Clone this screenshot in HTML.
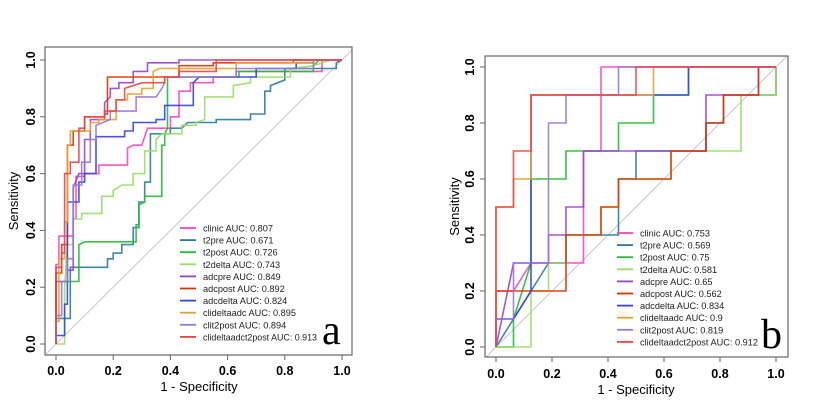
<!DOCTYPE html>
<html><head><meta charset="utf-8">
<style>
html,body{margin:0;padding:0;background:#fff;}
svg{display:block;font-family:"Liberation Sans",Arial,sans-serif;}
.tick{font-size:12.5px;font-weight:bold;fill:#000;}
.axt{font-size:13px;fill:#000;}
.leg{font-size:9.2px;fill:#222;}
</style></head>
<body>
<svg id="chart" width="822" height="404" viewBox="0 0 822 404"></svg>
<script>
// ---------- data ----------
const seriesNames = ["clinic","t2pre","t2post","t2delta","adcpre","adcpost","adcdelta","clideltaadc","clit2post","clideltaadct2post"];
const seriesColors = ["#FF44BB","#2A7AA0","#22BB33","#99DD66","#9944CC","#DD3300","#3344DD","#E8A030","#9977DD","#EE4444"];
const aucA = ["0.807","0.671","0.726","0.743","0.849","0.892","0.824","0.895","0.894","0.913"];
const aucB = ["0.753","0.569","0.75","0.581","0.65","0.562","0.834","0.9","0.819","0.912"];
const ticks = [0,0.2,0.4,0.6,0.8,1.0];
const tickLabels = ["0.0","0.2","0.4","0.6","0.8","1.0"];

const curvesA = [
 [[0,0],[0,0.28],[0.01,0.28],[0.01,0.38],[0.06,0.38],[0.06,0.44],[0.07,0.44],[0.07,0.59],[0.1,0.59],[0.1,0.6],[0.15,0.6],[0.15,0.63],[0.25,0.63],[0.25,0.69],[0.27,0.7],[0.3,0.7],[0.32,0.76],[0.4,0.76],[0.4,0.8],[0.43,0.8],[0.43,0.89],[0.47,0.89],[0.47,0.92],[0.55,0.92],[0.55,0.94],[0.63,0.94],[0.63,0.96],[0.93,0.96],[0.93,1],[1,1]],
 [[0,0],[0,0.09],[0.05,0.09],[0.05,0.27],[0.18,0.27],[0.18,0.3],[0.2,0.3],[0.2,0.32],[0.23,0.32],[0.23,0.35],[0.27,0.35],[0.27,0.41],[0.29,0.41],[0.29,0.5],[0.31,0.5],[0.31,0.57],[0.33,0.57],[0.33,0.74],[0.4,0.74],[0.4,0.76],[0.44,0.76],[0.46,0.78],[0.56,0.78],[0.56,0.79],[0.68,0.79],[0.68,0.81],[0.73,0.81],[0.73,0.89],[0.75,0.89],[0.75,0.91],[0.8,0.93],[0.8,0.97],[0.98,0.97],[0.98,0.99],[1,1]],
 [[0,0],[0,0.22],[0.08,0.22],[0.08,0.35],[0.1,0.36],[0.28,0.36],[0.28,0.42],[0.29,0.42],[0.29,0.49],[0.31,0.5],[0.31,0.52],[0.37,0.52],[0.37,0.7],[0.38,0.7],[0.38,0.74],[0.39,0.76],[0.39,0.94],[0.64,0.94],[0.64,0.96],[0.9,0.96],[0.9,0.98],[0.92,1],[1,1]],
 [[0,0],[0.03,0],[0.03,0.2],[0.04,0.35],[0.06,0.35],[0.06,0.44],[0.09,0.44],[0.09,0.46],[0.16,0.46],[0.16,0.52],[0.2,0.52],[0.2,0.54],[0.23,0.56],[0.27,0.56],[0.27,0.6],[0.31,0.6],[0.31,0.68],[0.35,0.68],[0.35,0.72],[0.37,0.74],[0.44,0.74],[0.44,0.77],[0.49,0.77],[0.49,0.78],[0.52,0.79],[0.52,0.87],[0.62,0.87],[0.62,0.91],[0.68,0.92],[0.68,0.94],[0.82,0.94],[0.82,0.97],[0.9,0.98],[0.96,1],[1,1]],
 [[0,0],[0,0.22],[0.04,0.22],[0.04,0.26],[0.06,0.26],[0.06,0.55],[0.08,0.6],[0.1,0.6],[0.1,0.72],[0.12,0.72],[0.12,0.79],[0.17,0.79],[0.17,0.85],[0.19,0.87],[0.19,0.9],[0.22,0.9],[0.22,0.92],[0.27,0.92],[0.27,0.96],[0.32,0.96],[0.32,0.99],[0.43,0.99],[0.43,1],[1,1]],
 [[0,0],[0,0.25],[0.02,0.25],[0.02,0.35],[0.04,0.35],[0.04,0.7],[0.06,0.7],[0.06,0.75],[0.1,0.75],[0.1,0.8],[0.17,0.8],[0.17,0.81],[0.18,0.81],[0.18,0.94],[0.43,0.94],[0.43,0.98],[0.55,0.98],[0.55,0.99],[0.83,0.99],[0.83,1],[1,1]],
 [[0,0],[0,0.03],[0.03,0.03],[0.03,0.14],[0.04,0.14],[0.04,0.5],[0.08,0.5],[0.08,0.57],[0.1,0.57],[0.1,0.6],[0.14,0.6],[0.14,0.73],[0.24,0.73],[0.24,0.75],[0.27,0.75],[0.27,0.78],[0.35,0.78],[0.35,0.79],[0.38,0.79],[0.38,0.84],[0.48,0.84],[0.48,0.92],[0.5,0.94],[0.7,0.94],[0.7,0.97],[0.84,0.97],[0.84,0.99],[0.9,0.99],[0.9,1],[1,1]],
 [[0,0],[0,0.08],[0.01,0.08],[0.01,0.3],[0.03,0.3],[0.03,0.43],[0.04,0.43],[0.04,0.7],[0.05,0.7],[0.05,0.75],[0.12,0.75],[0.12,0.78],[0.15,0.78],[0.15,0.79],[0.21,0.79],[0.21,0.86],[0.25,0.86],[0.25,0.88],[0.3,0.88],[0.3,0.9],[0.34,0.9],[0.34,0.96],[0.36,0.97],[0.63,0.97],[0.63,0.99],[0.9,0.99],[0.9,1],[1,1]],
 [[0,0],[0,0.1],[0.02,0.1],[0.02,0.22],[0.04,0.22],[0.04,0.3],[0.06,0.3],[0.06,0.56],[0.09,0.56],[0.09,0.64],[0.12,0.64],[0.12,0.72],[0.14,0.72],[0.14,0.77],[0.19,0.79],[0.19,0.82],[0.28,0.82],[0.28,0.87],[0.35,0.87],[0.37,0.9],[0.38,0.92],[0.38,0.94],[0.63,0.94],[0.63,0.97],[0.9,0.97],[0.9,1],[1,1]],
 [[0,0],[0,0.27],[0.02,0.27],[0.02,0.32],[0.03,0.32],[0.03,0.6],[0.05,0.6],[0.05,0.64],[0.08,0.64],[0.08,0.76],[0.1,0.76],[0.1,0.8],[0.17,0.8],[0.17,0.82],[0.21,0.82],[0.21,0.86],[0.24,0.86],[0.24,0.9],[0.3,0.92],[0.38,0.92],[0.38,0.94],[0.43,0.94],[0.43,0.96],[0.56,0.96],[0.56,1],[1,1]]
];
const curvesB = [
 [[0,0],[0,0.2],[0.0625,0.2],[0.125,0.3],[0.3125,0.3],[0.3125,0.7],[0.375,0.7],[0.375,1],[1,1]],
 [[0,0],[0.125,0.2],[0.1875,0.3],[0.25,0.3],[0.25,0.4],[0.4375,0.4],[0.4375,0.6],[0.5,0.6],[0.5,0.7],[0.75,0.7],[0.75,0.8],[0.8125,0.8],[0.8125,0.9],[1,0.9],[1,1]],
 [[0,0],[0.0625,0],[0.0625,0.1],[0.125,0.3],[0.125,0.6],[0.25,0.6],[0.25,0.7],[0.4375,0.7],[0.4375,0.8],[0.5625,0.8],[0.5625,0.9],[0.6875,0.9],[0.6875,1],[1,1]],
 [[0,0],[0.125,0],[0.125,0.2],[0.1875,0.2],[0.1875,0.3],[0.25,0.3],[0.25,0.4],[0.375,0.4],[0.375,0.5],[0.4375,0.5],[0.4375,0.6],[0.625,0.6],[0.625,0.7],[0.875,0.7],[0.875,0.9],[1,0.9],[1,1]],
 [[0,0],[0.0625,0.3],[0.1875,0.3],[0.1875,0.4],[0.25,0.4],[0.25,0.5],[0.3125,0.5],[0.3125,0.7],[0.75,0.7],[0.75,0.9],[0.9375,0.9],[0.9375,1],[1,1]],
 [[0,0],[0,0.2],[0.25,0.2],[0.25,0.4],[0.375,0.4],[0.375,0.5],[0.4375,0.5],[0.4375,0.6],[0.625,0.6],[0.625,0.7],[0.75,0.7],[0.75,0.8],[0.8125,0.8],[0.8125,0.9],[0.9375,0.9],[0.9375,1],[1,1]],
 [[0,0],[0,0.1],[0.0625,0.1],[0.125,0.2],[0.125,0.9],[0.6875,0.9],[0.6875,1],[1,1]],
 [[0,0],[0,0.5],[0.0625,0.5],[0.0625,0.6],[0.125,0.6],[0.125,0.9],[0.5625,0.9],[0.5625,1],[1,1]],
 [[0,0],[0,0.1],[0.0625,0.1],[0.0625,0.3],[0.1875,0.3],[0.1875,0.8],[0.25,0.8],[0.25,0.9],[0.4375,0.9],[0.4375,1],[1,1]],
 [[0,0],[0,0.5],[0.0625,0.5],[0.0625,0.7],[0.125,0.7],[0.125,0.9],[0.5,0.9],[0.5,1],[1,1]]
];

// ---------- drawing ----------
const NS = "http://www.w3.org/2000/svg";
const svg = document.getElementById("chart");
function mk(tag, attrs, parent){
  const e = document.createElementNS(NS, tag);
  for (const k in attrs) e.setAttribute(k, attrs[k]);
  (parent||svg).appendChild(e);
  return e;
}

const panels = [
 {id:"a", box:[45,47,352,355], x0:56, x1:342, y0:344, y1:60, curves:curvesA, auc:aucA,
  legX:180, legY:228, legDy:12.1, letterX:322, letterY:344, legW:114,
  ytx:31, xty:375, ylabX:14, xlabY:391},
 {id:"b", box:[485,56,788,357], x0:496, x1:776, y0:347, y1:67, curves:curvesB, auc:aucB,
  legX:617, legY:233, legDy:12.1, letterX:761, letterY:348, legW:118,
  ytx:470, xty:378, ylabX:455, xlabY:394}
];

panels.forEach(p => {
  const g = mk("g", {});
  
  
  const sx = v => p.x0 + v*(p.x1-p.x0);
  const sy = v => p.y0 + v*(p.y1-p.y0);
  const [bx0,by0,bx1,by1] = p.box;

  const cp = mk("clipPath", {id:"clip"+p.id}, g);
  mk("rect", {x:bx0, y:by0, width:bx1-bx0, height:by1-by0}, cp);

  const diag = mk("line", {x1:sx(-0.1), y1:sy(-0.1), x2:sx(1.1), y2:sy(1.1), stroke:"#c8c8c8", "stroke-width":1, "clip-path":"url(#clip"+p.id+")"}, g);
  
  

  p.curves.forEach((pts, i) => {
    const pl = mk("polyline", {points: pts.map(q => sx(q[0]).toFixed(1)+","+sy(q[1]).toFixed(1)).join(" "),
      fill:"none", stroke:seriesColors[i], "stroke-width":1.6, "stroke-opacity":0.9, "clip-path":"url(#clip"+p.id+")"}, g);
    
    
  });

  const box = mk("rect", {x:bx0, y:by0, width:bx1-bx0, height:by1-by0, fill:"none", stroke:"#666", "stroke-width":1.2}, g);
  
  

  ticks.forEach((t, i) => {
    mk("line", {x1:sx(t), y1:by1, x2:sx(t), y2:by1+5, stroke:"#666"}, g);
    const xl = mk("text", {x:sx(t), y:p.xty, "text-anchor":"middle", class:"tick"}, g);
    xl.textContent = tickLabels[i];
    
    
    mk("line", {x1:bx0, y1:sy(t), x2:bx0-5, y2:sy(t), stroke:"#666"}, g);
    const yl = mk("text", {x:p.ytx+4, y:sy(t), "text-anchor":"middle", class:"tick", transform:"rotate(-90 "+(p.ytx+4)+" "+sy(t)+")"}, g);
    yl.textContent = tickLabels[i];
    
    
  });

  const xt = mk("text", {x:(p.x0+p.x1)/2, y:p.xlabY, "text-anchor":"middle", class:"axt"}, g);
  xt.textContent = "1 - Specificity";
  
  
  const cy = (by0+by1)/2;
  const yt = mk("text", {x:p.ylabX+4, y:cy, "text-anchor":"middle", class:"axt", transform:"rotate(-90 "+(p.ylabX+4)+" "+cy+")"}, g);
  yt.textContent = "Sensitivity";
  
  

  const lg = mk("g", {}, g);
  
  
  seriesNames.forEach((n, i) => {
    const y = p.legY + i*p.legDy;
    const ll = mk("line", {x1:p.legX, y1:y, x2:p.legX+16, y2:y, stroke:seriesColors[i], "stroke-width":1.8}, lg);
    
    
    const txt = n + " AUC: " + p.auc[i];
    const attrs = {x:p.legX+23, y:y+3.5, class:"leg"};
    if (i === seriesNames.length-1) { attrs.textLength = p.legW; attrs.lengthAdjust = "spacingAndGlyphs"; }
    const lt = mk("text", attrs, lg);
    lt.textContent = txt;
    
    
  });

  const L = mk("text", {x:p.letterX, y:p.letterY, "font-family":"Liberation Serif, serif", "font-size":42, fill:"#000"}, g);
  L.textContent = p.id;
  
  
});
</script>
</body></html>
